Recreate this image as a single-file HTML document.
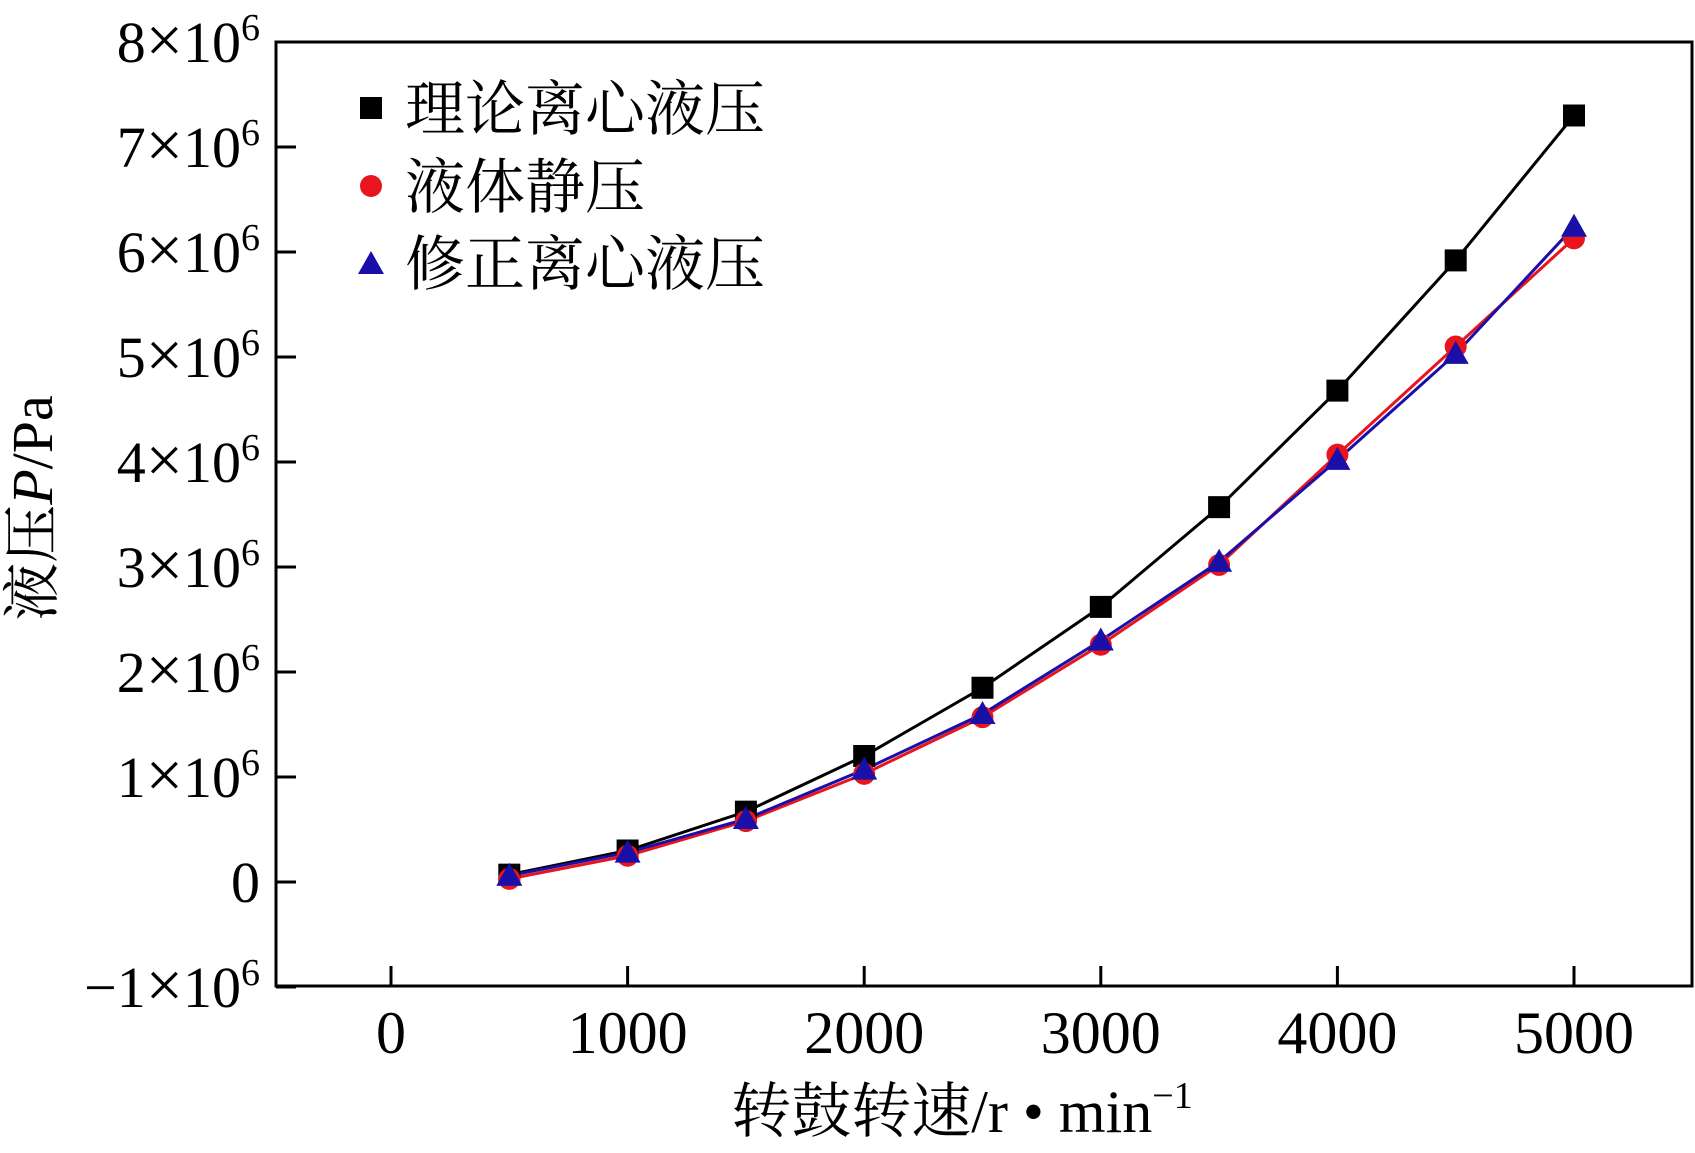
<!DOCTYPE html>
<html><head><meta charset="utf-8"><style>
html,body{margin:0;padding:0;background:#fff;}
svg{display:block;font-family:"Liberation Serif","Noto Serif CJK SC",serif;}
</style></head><body>
<svg id="chart" width="1695" height="1153" viewBox="0 0 1695 1153">
<rect x="276" y="42" width="1416" height="944" fill="none" stroke="#000" stroke-width="3"/>
<g id="axes"></g>
<g id="series"></g>
<g>
<rect x="360" y="97" width="22" height="22" fill="#000"/>
<text x="405" y="130" font-size="60">理论离心液压</text>
<circle cx="371" cy="186" r="11" fill="#e8141e"/>
<text x="405" y="208" font-size="60">液体静压</text>
<polygon points="371,251 384,274 358,274" fill="#1a0fa8"/>
<text x="405" y="285" font-size="60">修正离心液压</text>
</g>
<text x="962" y="1132" font-size="60" text-anchor="middle">转鼓转速/r • min<tspan font-size="38" dy="-24">−1</tspan></text>
<text transform="translate(52,508) rotate(-90)" font-size="58" text-anchor="middle">液压<tspan font-style="italic">P</tspan>/Pa</text>
</svg>
<script>
const speeds=[500,1000,1500,2000,2500,3000,3500,4000,4500,5000];
const theory=[0.07,0.3,0.67,1.2,1.85,2.62,3.57,4.68,5.92,7.3];
const hydrostatic=[0.03,0.25,0.58,1.03,1.57,2.26,3.02,4.07,5.1,6.13];
const corrected=[0.06,0.28,0.6,1.07,1.6,2.3,3.05,4.02,5.03,6.24];
const xTicks=[0,1000,2000,3000,4000,5000];
const yTicks=[-1,0,1,2,3,4,5,6,7,8];
const NS="http://www.w3.org/2000/svg";
function X(v){return 391+v*0.2366;}
function Y(v){return 882-v*105;}
const axes=document.getElementById('axes'),ser=document.getElementById('series');
function mk(tag,attrs,parent){const e=document.createElementNS(NS,tag);for(const k in attrs)e.setAttribute(k,attrs[k]);parent.appendChild(e);return e;}
xTicks.forEach(t=>{
 const l=mk('line',{x1:X(t),x2:X(t),y1:986,y2:966,stroke:'#000','stroke-width':3},axes);
 
 
 const tx=mk('text',{x:X(t),y:1053,'font-size':60,'text-anchor':'middle'},axes);
 tx.textContent=t;
 
 
});
yTicks.forEach(t=>{
 const l=mk('line',{x1:276,x2:296,y1:Y(t),y2:Y(t),stroke:'#000','stroke-width':3},axes);
 
 
 const tx=mk('text',{x:260,y:Y(t)+20,'font-size':58,'text-anchor':'end'},axes);
 if(t===0){tx.textContent='0';}
 else{tx.innerHTML=(t<0?'−':'')+Math.abs(t)+'<tspan font-size="66">×</tspan>10<tspan font-size="38" dy="-22">6</tspan>';}
 
 
});
function line(vals,color,name){
 const p=mk('polyline',{points:speeds.map((s,i)=>X(s)+','+Y(vals[i])).join(' '),fill:'none',stroke:color,'stroke-width':3},ser);
 
 
}
line(theory,'#000','theory');
line(hydrostatic,'#e8141e','hydrostatic');
line(corrected,'#1a0fa8','corrected');
speeds.forEach((s,i)=>{
 const r=mk('rect',{x:X(s)-11,y:Y(theory[i])-11,width:22,height:22,fill:'#000'},ser);
 
 
});
speeds.forEach((s,i)=>{
 const c=mk('circle',{cx:X(s),cy:Y(hydrostatic[i]),r:11,fill:'#e8141e'},ser);
 
 
});
speeds.forEach((s,i)=>{
 const x=X(s),y=Y(corrected[i]);
 const t=mk('polygon',{points:`${x},${y-13} ${x+13},${y+10} ${x-13},${y+10}`,fill:'#1a0fa8'},ser);
 
 
});
</script>
</body></html>
